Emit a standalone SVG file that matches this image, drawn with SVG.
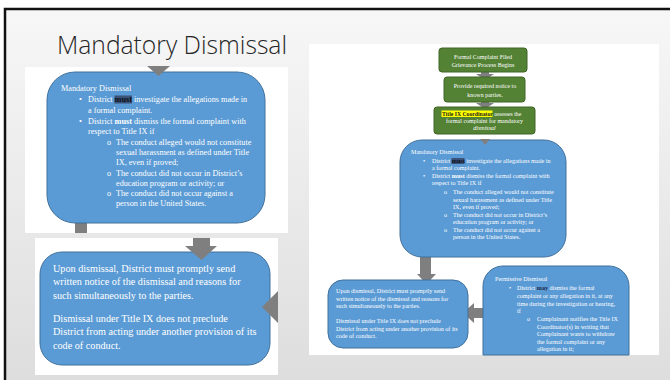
<svg xmlns="http://www.w3.org/2000/svg" width="670" height="380" viewBox="0 0 670 380">
  <defs>
    <linearGradient id="slideBg" x1="0" y1="0" x2="0" y2="1">
      <stop offset="0" stop-color="#f7f7f7"/>
      <stop offset="1" stop-color="#dcdcdc"/>
    </linearGradient>
    <style>
      .panel { fill: #ffffff; }
      .blue { fill: #5b9bd5; stroke: #41719c; stroke-width: 1; }
      .green { fill: #548235; stroke: #3f6428; stroke-width: 1; }
      .arrow { fill: #7f7f7f; }
      .t { font-family: "Liberation Serif", "Times New Roman", serif; fill: #ffffff; }
      .b { font-weight: bold; }
      .dark { fill: #0a0f1a; }
      .hl { fill: #3b5378; }
      .hly { fill: #ffff00; }
      .title { font-family: "Open Sans", "Liberation Sans", sans-serif; font-weight: 300; fill: #262626; }
    </style>
  </defs>

  <!-- slide frame -->
  <rect x="0" y="0" width="670" height="380" fill="#ffffff"/>
  <rect x="5" y="9" width="680" height="390" fill="url(#slideBg)" stroke="#111111" stroke-width="2.5"/>

  <text class="title" x="57" y="54" font-size="25" textLength="230" lengthAdjust="spacingAndGlyphs">Mandatory Dismissal</text>

  <!-- left: mandatory dismissal panel -->
  <g id="left-mandatory">
    <rect class="panel" x="25" y="67" width="263" height="166"/>
    <rect class="arrow" x="75" y="220" width="12" height="13"/>
    <rect class="blue" x="47" y="72" width="218" height="151" rx="28"/>
    <polygon class="arrow" points="147,66 170,66 158.5,76"/>
    <g class="t" font-size="8.2">
      <text x="61" y="91">Mandatory Dismissal</text>
      <text x="79" y="102">•</text>
      <rect class="hl" x="114.5" y="95.5" width="17.5" height="8"/>
      <text x="88" y="102">District <tspan class="b dark">must</tspan> investigate the allegations made in</text>
      <text x="88" y="112.5">a formal complaint.</text>
      <text x="79" y="123.5">•</text>
      <text x="88" y="123.5">District <tspan class="b">must</tspan> dismiss the formal complaint with</text>
      <text x="88" y="134">respect to Title IX if</text>
      <text x="107" y="145">o</text>
      <text x="116" y="145">The conduct alleged would not constitute</text>
      <text x="116" y="155">sexual harassment as defined under Title</text>
      <text x="116" y="165">IX, even if proved;</text>
      <text x="107" y="175.5">o</text>
      <text x="116" y="175.5">The conduct did not occur in District’s</text>
      <text x="116" y="185.5">education program or activity; or</text>
      <text x="107" y="196">o</text>
      <text x="116" y="196">The conduct did not occur against a</text>
      <text x="116" y="206">person in the United States.</text>
    </g>
  </g>

  <!-- left: notice panel -->
  <g id="left-notice">
    <rect class="panel" x="35" y="238" width="243" height="137"/>
    <rect class="blue" x="40" y="252" width="230" height="113" rx="22"/>
    <g class="t" font-size="10.2">
      <text x="53" y="271.5">Upon dismissal, District must promptly send</text>
      <text x="53" y="285">written notice of the dismissal and reasons for</text>
      <text x="53" y="298.5">such simultaneously to the parties.</text>
      <text x="53" y="321.5">Dismissal under Title IX does not preclude</text>
      <text x="53" y="335">District from acting under another provision of its</text>
      <text x="53" y="348.5">code of conduct.</text>
    </g>
  </g>

  <!-- right: flowchart panel -->
  <g id="right-panel">
    <rect class="panel" x="309" y="44" width="350" height="311"/>
  </g>

  <g id="connectors">
    <polygon class="arrow" points="193,238 210,238 210,246 217,246 201.5,260 185,246 193,246"/>
    <polygon class="arrow" points="262,307 278,291 278,323"/>
    <polygon class="arrow" points="481,71 489,71 489,74 494,74 485,80 476,74 481,74"/>
    <polygon class="arrow" points="481,101 489,101 489,103 494,103 485,109 476,103 481,103"/>
    <polygon class="arrow" points="420,256 431,256 431,274 436,274 426.5,284 417,274 420,274"/>
    <polygon class="arrow" points="484,308 474,308 474,303 463,313 474,323 474,318 484,318"/>
  </g>

  <g id="node-filed">
    <rect class="green" x="439" y="48" width="88" height="24" rx="3"/>
    <g class="t" font-size="6" text-anchor="middle">
      <text x="483" y="58.5">Formal Complaint Filed</text>
      <text x="483" y="66.5">Grievance Process Begins</text>
    </g>
  </g>

  <g id="node-notice">
    <rect class="green" x="444" y="77" width="81" height="25" rx="3"/>
    <g class="t" font-size="6" text-anchor="middle">
      <text x="485" y="88">Provide required notice to</text>
      <text x="485" y="96.5">known parties.</text>
    </g>
  </g>

  <g id="node-assess">
    <rect class="green" x="434" y="107" width="101" height="27" rx="3"/>
    <rect class="hly" x="441.5" y="110.5" width="51" height="6.5"/>
    <g class="t" font-size="5.7">
      <text x="442" y="115.5"><tspan class="b" fill="#1a1a1a">Title IX Coordinator</tspan> assesses the</text>
      <text x="484.5" y="122.5" font-size="6" text-anchor="middle">formal complaint for mandatory</text>
      <text x="484.5" y="129.5" font-size="6" text-anchor="middle" font-style="italic">dismissal</text>
    </g>
  </g>

  <g id="node-mandatory">
    <rect class="blue" x="400" y="140" width="166" height="117" rx="22"/>
    <polygon class="arrow" points="480,139 490,139 485,145"/>
    <g class="t" font-size="6.1">
      <text x="411" y="154">Mandatory Dismissal</text>
      <text x="423" y="163">•</text>
      <rect class="hl" x="451.5" y="158" width="13" height="6"/>
      <text x="432" y="163">District <tspan class="b dark">must</tspan> investigate the allegations made in</text>
      <text x="432" y="170">a formal complaint.</text>
      <text x="423" y="178">•</text>
      <text x="432" y="178">District <tspan class="b">must</tspan> dismiss the formal complaint with</text>
      <text x="432" y="185">respect to Title IX if</text>
      <text x="444" y="194">o</text>
      <text x="453" y="194">The conduct alleged would not constitute</text>
      <text x="453" y="201.5">sexual harassment as defined under Title</text>
      <text x="453" y="209">IX, even if proved;</text>
      <text x="444" y="216.5">o</text>
      <text x="453" y="216.5">The conduct did not occur in District’s</text>
      <text x="453" y="224">education program or activity; or</text>
      <text x="444" y="231.5">o</text>
      <text x="453" y="231.5">The conduct did not occur against a</text>
      <text x="453" y="239">person in the United States.</text>
    </g>
  </g>

  <g id="node-written-notice">
    <rect class="blue" x="328" y="280" width="140" height="68" rx="15"/>
    <g class="t" font-size="6.1">
      <text x="336" y="293">Upon dismissal, District must promptly send</text>
      <text x="336" y="300.5">written notice of the dismissal and reasons for</text>
      <text x="336" y="308">such simultaneously to the parties.</text>
      <text x="336" y="323">Dismissal under Title IX does not preclude</text>
      <text x="336" y="330.5">District from acting under another provision of its</text>
      <text x="336" y="338">code of conduct.</text>
    </g>
  </g>

  <g id="node-permissive">
    <path class="blue" d="M483,355 V286 a20,20 0 0 1 20,-20 H609 a20,20 0 0 1 20,20 V355 Z"/>
    <g class="t" font-size="6.1">
      <text x="495" y="281">Permissive Dismissal</text>
      <text x="509" y="290">•</text>
      <text x="517" y="290">District <tspan class="b" fill="#1b2a4a">may</tspan> dismiss the formal</text>
      <text x="517" y="298">complaint or any allegation in it, at any</text>
      <text x="517" y="305.5">time during the investigation or hearing,</text>
      <text x="517" y="313">if</text>
      <text x="527" y="321">o</text>
      <text x="537" y="321">Complainant notifies the Title IX</text>
      <text x="537" y="328.5">Coordinator(s) in writing that</text>
      <text x="537" y="336">Complainant wants to withdraw</text>
      <text x="537" y="343.5">the formal complaint or any</text>
      <text x="537" y="351">allegation in it;</text>
    </g>
  </g>
</svg>
